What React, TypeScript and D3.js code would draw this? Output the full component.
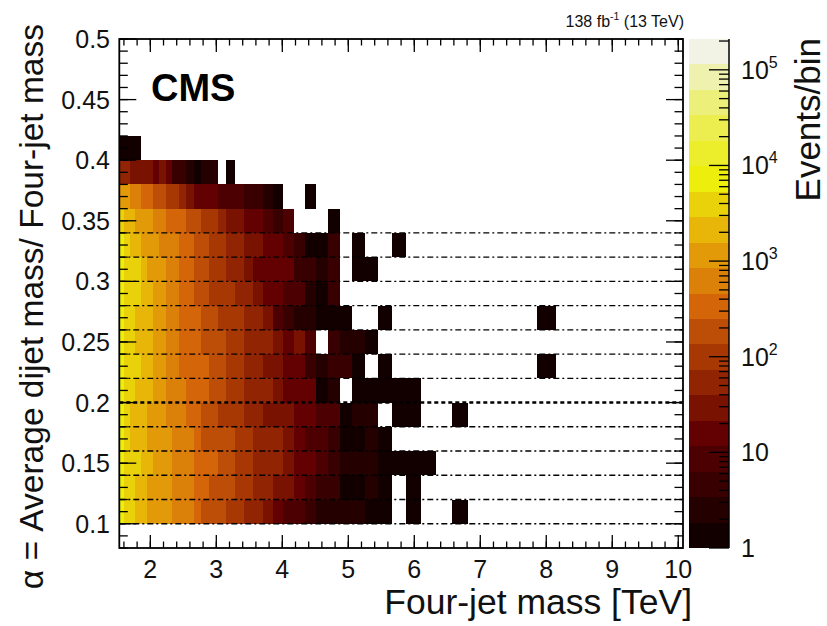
import React from 'react';
import * as d3 from 'd3';

// Four-jet mass bin edges in TeV (CMS dijet mass binning)
const massEdges = [1.530, 1.607, 1.687, 1.770, 1.856, 1.945, 2.037, 2.132, 2.231, 2.332, 2.438, 2.546, 2.659, 2.775, 2.895, 3.019, 3.147, 3.279, 3.416, 3.558, 3.704, 3.854, 4.010, 4.171, 4.337, 4.509, 4.686, 4.869, 5.058, 5.253, 5.455, 5.663, 5.877, 6.099, 6.328, 6.564, 6.808, 7.060, 7.320, 7.589, 7.866, 8.152, 8.447, 8.752, 9.067, 9.391, 9.726, 10.072];

// alpha bin edges
const alphaEdges = [0.10, 0.12, 0.14, 0.16, 0.18, 0.20, 0.22, 0.24, 0.26, 0.28, 0.30, 0.32, 0.34, 0.36, 0.38, 0.40, 0.42];

// Events per bin, one array per alpha row (index = mass bin), 0 = empty
const alpha010 = [7900, 4600, 3700, 2700, 2100, 1500, 1300, 1100, 950, 800, 640, 520, 380, 240, 200, 150, 120, 85, 70, 50, 34, 19, 10, 8, 5, 3, 3, 2, 2, 1, 1, 0, 1, 0, 0, 1];
const alpha012 = [8300, 5000, 3900, 2800, 2200, 1500, 1400, 1150, 980, 820, 680, 540, 420, 300, 230, 200, 160, 130, 90, 70, 52, 38, 25, 16, 9, 6, 4, 1, 1, 2, 1, 0, 1];
const alpha014 = [8700, 5300, 4300, 3200, 2600, 2000, 1550, 1300, 1050, 820, 700, 560, 440, 360, 280, 230, 170, 125, 100, 72, 60, 45, 30, 20, 14, 10, 5, 3, 2, 2, 1, 1, 1, 1];
const alpha016 = [8900, 5200, 2700, 2600, 2300, 1500, 1450, 1200, 1000, 820, 690, 560, 400, 240, 210, 180, 145, 120, 95, 70, 56, 44, 28, 15, 10, 8, 5, 1, 1, 2, 1];
const alpha018 = [9200, 5100, 2700, 2650, 2400, 1500, 1400, 1100, 820, 740, 600, 420, 380, 240, 190, 125, 115, 90, 70, 55, 38, 32, 25, 18, 13, 9, 7, 1, 2, 3, 0, 1, 1, 0, 0, 1];
const alpha020 = [9400, 5100, 4500, 2750, 2500, 2000, 1500, 1200, 820, 760, 620, 430, 400, 320, 240, 190, 130, 100, 72, 58, 45, 34, 20, 16, 13, 1, 2, 0, 1, 1, 1, 1, 1];
const alpha022 = [9600, 5100, 4700, 3300, 2700, 2100, 1550, 1250, 820, 700, 430, 420, 360, 300, 230, 180, 130, 95, 70, 55, 36, 30, 19, 14, 5, 3, 4, 5, 1, 0, 1, 0, 0, 0, 0, 0, 0, 0, 0, 0, 1];
const alpha024 = [9800, 5100, 4600, 2750, 2600, 2000, 1500, 1200, 820, 720, 430, 400, 330, 230, 200, 160, 125, 95, 72, 60, 45, 33, 18, 24, 9, 0, 4, 3, 2, 1];
const alpha026 = [9700, 5300, 4400, 2750, 2500, 1900, 1450, 1150, 820, 700, 450, 380, 300, 240, 180, 130, 110, 90, 68, 50, 28, 10, 5, 3, 2, 1, 1, 1, 0, 0, 1, 0, 0, 0, 0, 0, 0, 0, 0, 0, 1];
const alpha028 = [9500, 5200, 4200, 3100, 2400, 1800, 1350, 1000, 800, 650, 420, 330, 240, 190, 130, 110, 90, 70, 52, 30, 18, 14, 9, 7, 2, 1, 4];
const alpha030 = [9000, 4800, 3900, 3000, 2100, 1500, 1300, 950, 780, 600, 400, 300, 210, 170, 120, 90, 65, 48, 30, 20, 16, 14, 12, 5, 4, 2, 5, 0, 1, 1];
const alpha032 = [7800, 4200, 2700, 2500, 1500, 1300, 1000, 840, 700, 560, 400, 300, 220, 160, 120, 85, 62, 45, 34, 24, 17, 13, 8, 4, 1, 1, 4, 0, 1, 0, 0, 1];
const alpha034 = [4800, 2700, 2300, 1550, 1200, 950, 800, 620, 440, 380, 300, 220, 170, 125, 90, 60, 36, 28, 18, 13, 9, 5, 7, 0, 0, 0, 1];
const alpha036 = [1400, 1050, 800, 620, 440, 300, 230, 170, 130, 90, 60, 30, 20, 16, 13, 10, 9, 7, 5, 4, 2, 1, 0, 0, 1];
const alpha038 = [60, 48, 36, 30, 28, 24, 18, 26, 14, 5, 4, 3, 1, 2, 2, 0, 1];
const alpha040 = [1, 1, 1, 1];

const rows = [alpha010, alpha012, alpha014, alpha016, alpha018, alpha020, alpha022, alpha024, alpha026, alpha028, alpha030, alpha032, alpha034, alpha036, alpha038, alpha040];

// horizontal dashed lines (alpha values)
const dashedAlphas = [0.10, 0.12, 0.14, 0.16, 0.18, 0.20, 0.22, 0.24, 0.26, 0.28, 0.30, 0.32, 0.34];

const xTickValues = [2, 3, 4, 5, 6, 7, 8, 9, 10];
const yTickValues = [0.1, 0.15, 0.2, 0.25, 0.3, 0.35, 0.4, 0.45, 0.5];
const yTickLabels = ['0.1', '0.15', '0.2', '0.25', '0.3', '0.35', '0.4', '0.45', '0.5'];
const zTickValues = [1, 10, 100, 1000, 10000, 100000];
const zTickExp = ['', '', '2', '3', '4', '5'];
const zTickBase = ['1', '10', '10', '10', '10', '10'];

const zMin = 1;
const zMax = 2.1e5;
const nContours = 20;

// ROOT kDarkBodyRadiator palette
const palR = [0, 45, 99, 156, 212, 230, 237, 234, 242];
const palG = [0, 0, 0, 45, 101, 168, 238, 238, 243];
const palB = [0, 1, 1, 3, 9, 8, 11, 95, 230];

const FONT = "'Liberation Sans', Arial, Helvetica, sans-serif";

export default function App() {
  const X0 = 119.3, X1 = 683, Y0 = 39, Y1 = 548;
  const CB0 = 689.3, CB1 = 729;
  const x = d3.scaleLinear().domain([massEdges[0], massEdges[massEdges.length - 1]]).range([X0, X1]);
  const y = d3.scaleLinear().domain([0.08, 0.5]).range([Y1, Y0]);
  const z = d3.scaleLog().domain([zMin, zMax]).range([Y1, Y0]);

  const stops = d3.range(9).map(i => i / 8);
  const pal = d3.scaleLinear<string>()
    .domain(stops)
    .range(stops.map((_, i) => d3.rgb(palR[i], palG[i], palB[i]).toString()))
    .interpolate(d3.interpolateRgb);
  const logMax = Math.log10(zMax);
  const bandOf = (v: number) => Math.max(0, Math.min(nContours - 1, Math.floor(Math.log10(v) / logMax * nContours)));
  const bandColor = (b: number) => pal((b + 0.99) / nContours);

  const cells: JSX.Element[] = [];
  rows.forEach((row, r) => {
    row.forEach((v, j) => {
      if (v <= 0) return;
      const xa = x(massEdges[j]);
      const xb = x(massEdges[j + 1]);
      const ya = y(alphaEdges[r + 1]);
      const yb = y(alphaEdges[r]);
      cells.push(<rect key={`c${r}-${j}`} x={xa} y={ya} width={xb - xa} height={yb - ya} fill={bandColor(bandOf(v))} shapeRendering="crispEdges" />);
    });
  });

  const bands = d3.range(nContours).map(b => {
    const lo = Math.pow(10, b * logMax / nContours);
    const hi = Math.pow(10, (b + 1) * logMax / nContours);
    return <rect key={`b${b}`} x={CB0} y={z(hi)} width={CB1 - CB0} height={z(lo) - z(hi)} fill={bandColor(b)} shapeRendering="crispEdges" />;
  });

  const zMinor: number[] = [];
  for (let k = 0; k <= 5; k++) for (let d = 2; d <= 9; d++) { const v = d * Math.pow(10, k); if (v <= zMax) zMinor.push(v); }

  const xMinor = d3.range(16, 101, 2).map(v => v / 10);
  const yMinor = d3.range(8, 51, 1).map(v => v / 100);

  const tickStroke = { stroke: '#000', strokeWidth: 1.3 };

  return (
    <svg width={827} height={626} style={{ position: 'absolute', left: 0, top: 0, background: '#fff' }} fontFamily={FONT}>
      <rect x={0} y={0} width={827} height={626} fill="#fff" />
      {cells}
      {dashedAlphas.map(a => (
        <line key={`d${a}`} x1={X0} x2={X1} y1={y(a)} y2={y(a)} stroke="#000"
          strokeWidth={Math.abs(a - 0.2) < 1e-6 ? 2.6 : 1.4}
          strokeDasharray={Math.abs(a - 0.2) < 1e-6 ? '4 3' : '6 3 2 3'} />
      ))}
      {/* ticks x */}
      {xMinor.map(v => (
        <g key={`xm${v}`}>
          <line x1={x(v)} x2={x(v)} y1={Y1} y2={Y1 - 6.5} {...tickStroke} />
          <line x1={x(v)} x2={x(v)} y1={Y0} y2={Y0 + 6.5} {...tickStroke} />
        </g>
      ))}
      {xTickValues.map(v => (
        <g key={`xM${v}`}>
          <line x1={x(v)} x2={x(v)} y1={Y1} y2={Y1 - 13} {...tickStroke} />
          <line x1={x(v)} x2={x(v)} y1={Y0} y2={Y0 + 13} {...tickStroke} />
          <text x={x(v)} y={578} textAnchor="middle" fontSize={25} fill="#111">{v}</text>
        </g>
      ))}
      {/* ticks y */}
      {yMinor.map(v => (
        <g key={`ym${v}`}>
          <line x1={X0} x2={X0 + 8.5} y1={y(v)} y2={y(v)} {...tickStroke} />
          <line x1={X1} x2={X1 - 8.5} y1={y(v)} y2={y(v)} {...tickStroke} />
        </g>
      ))}
      {yTickValues.map((v, i) => (
        <g key={`yM${v}`}>
          <line x1={X0} x2={X0 + 17} y1={y(v)} y2={y(v)} {...tickStroke} />
          <line x1={X1} x2={X1 - 17} y1={y(v)} y2={y(v)} {...tickStroke} />
          <text x={110} y={y(v)} dy="0.36em" textAnchor="end" fontSize={25} fill="#111">{yTickLabels[i]}</text>
        </g>
      ))}
      <rect x={X0} y={Y0} width={X1 - X0} height={Y1 - Y0} fill="none" stroke="#000" strokeWidth={1.8} />

      {/* colour bar */}
      {bands}
      <line x1={CB1} x2={CB1} y1={Y0} y2={Y1} stroke="#000" strokeWidth={1.5} />
      {zMinor.map(v => (
        <line key={`zm${v}`} x1={CB1} x2={CB1 - 10} y1={z(v)} y2={z(v)} {...tickStroke} />
      ))}
      {zTickValues.map((v, i) => (
        <g key={`zM${v}`}>
          <line x1={CB1} x2={CB1 - 20} y1={z(v)} y2={z(v)} {...tickStroke} />
          <text x={741} y={z(v) + 9} fontSize={25} fill="#111">
            {zTickBase[i]}
            {zTickExp[i] && <tspan fontSize={16} dy={-11}>{zTickExp[i]}</tspan>}
          </text>
        </g>
      ))}
      <text transform={`translate(820,38) rotate(-90)`} textAnchor="end" fontSize={35} fill="#111">Events/bin</text>

      {/* titles */}
      <text x={692} y={614} textAnchor="end" fontSize={35.5} fill="#111">Four-jet mass [TeV]</text>
      <text transform={`translate(43,24) rotate(-90)`} textAnchor="end" fontSize={33.5} fill="#111">α = Average dijet mass/ Four-jet mass</text>
      <text x={151} y={101} fontSize={38} fontWeight="bold" fill="#000">CMS</text>
      <text x={684} y={27} textAnchor="end" fontSize={16} fill="#111">
        138 fb<tspan fontSize={10.5} dy={-7}>-1</tspan><tspan dy={7}> (13 TeV)</tspan>
      </text>
    </svg>
  );
}
